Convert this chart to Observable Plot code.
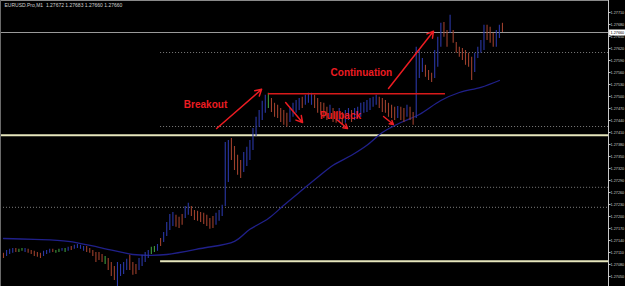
<!DOCTYPE html>
<html><head><meta charset="utf-8">
<script src="https://cdn.jsdelivr.net/npm/d3@7"></script>
<script src="https://cdn.jsdelivr.net/npm/@observablehq/plot@0.6"></script>
<style>
html,body{margin:0;padding:0;background:#000;}
#chart{position:relative;width:625px;height:286px;overflow:hidden;background:#000;}
#chart svg{display:block;}
</style></head><body><div id="chart"></div>
<script>
// ---- DATA ----
const symbolTitle = "EURUSD.Pro,M1  1.27672 1.27683 1.27660 1.27660";
const bidPrice = 1.27660;

const highs = [
 1.27108,1.27115,1.27118,1.27120,1.27120,1.27118,1.27120,1.27120,1.27118,1.27115,
 1.27113,1.27110,1.27108,1.27113,1.27115,1.27118,1.27118,1.27115,1.27118,1.27120,
 1.27120,1.27123,1.27125,1.27128,1.27130,1.27128,1.27125,1.27125,1.27120,1.27115,1.27110,
 1.27110,1.27105,1.27100,1.27095,1.27085,1.27075,1.27085,1.27080,1.27085,1.27093,
 1.27103,1.27085,1.27080,1.27095,1.27103,1.27110,1.27115,1.27123,1.27125,1.27130,
 1.27145,1.27160,1.27185,1.27205,1.27210,1.27203,1.27198,1.27205,1.27225,1.27233,
 1.27225,1.27215,1.27213,1.27210,1.27208,1.27203,1.27195,1.27200,1.27208,1.27215,1.27228,1.27385,
 1.27390,1.27395,1.27375,1.27353,1.27340,1.27360,1.27373,1.27390,1.27420,1.27448,1.27465,1.27488,1.27503,1.27508,
 1.27495,1.27483,1.27478,1.27470,1.27465,1.27458,1.27470,1.27483,1.27490,1.27495,
 1.27498,1.27503,1.27508,1.27508,1.27503,1.27495,1.27485,1.27483,1.27473,1.27478,
 1.27470,1.27460,1.27470,1.27460,1.27465,1.27470,1.27465,1.27470,1.27473,1.27483,
 1.27485,1.27490,1.27495,1.27498,1.27503,1.27498,1.27495,1.27490,1.27483,1.27478,
 1.27473,1.27475,1.27473,1.27470,1.27478,1.27473,1.27460,
 1.27623,1.27615,1.27595,1.27578,1.27565,1.27558,1.27615,1.27648,1.27683,1.27685,
 1.27665,1.27703,1.27665,1.27635,1.27623,1.27620,1.27615,1.27608,1.27598,1.27608,
 1.27623,1.27640,1.27678,1.27678,1.27673,1.27658,1.27665,1.27678,1.27683
];
const lows = [
 1.27095,1.27100,1.27105,1.27108,1.27110,1.27110,1.27113,1.27110,1.27108,1.27105,
 1.27100,1.27098,1.27095,1.27100,1.27105,1.27108,1.27110,1.27108,1.27110,1.27113,
 1.27110,1.27113,1.27115,1.27118,1.27120,1.27118,1.27113,1.27110,1.27108,1.27100,1.27085,
 1.27090,1.27085,1.27080,1.27065,1.27050,1.27040,1.27025,1.27050,1.27055,1.27065,
 1.27065,1.27053,1.27055,1.27065,1.27075,1.27085,1.27095,1.27105,1.27110,1.27113,
 1.27125,1.27135,1.27150,1.27165,1.27175,1.27173,1.27170,1.27178,1.27195,1.27203,
 1.27200,1.27190,1.27188,1.27185,1.27180,1.27175,1.27168,1.27170,1.27178,1.27188,1.27200,1.27225,
 1.27285,1.27340,1.27315,1.27303,1.27295,1.27310,1.27325,1.27340,1.27365,1.27400,1.27423,1.27440,1.27458,1.27470,
 1.27460,1.27448,1.27445,1.27435,1.27428,1.27423,1.27435,1.27448,1.27458,1.27465,
 1.27470,1.27478,1.27483,1.27478,1.27470,1.27458,1.27453,1.27445,1.27440,1.27445,
 1.27435,1.27433,1.27435,1.27428,1.27433,1.27440,1.27435,1.27440,1.27445,1.27448,
 1.27458,1.27460,1.27465,1.27473,1.27478,1.27470,1.27460,1.27458,1.27448,1.27445,
 1.27440,1.27445,1.27440,1.27435,1.27448,1.27440,1.27428,
 1.27445,1.27545,1.27560,1.27548,1.27540,1.27535,1.27545,1.27573,1.27623,1.27648,
 1.27623,1.27658,1.27633,1.27608,1.27598,1.27590,1.27578,1.27573,1.27540,1.27560,
 1.27595,1.27608,1.27615,1.27640,1.27633,1.27623,1.27623,1.27645,1.27660
];
// b = up bar, r = down bar, g = doji
const dirs = ("rbbbrggbrrrrrbbbrggbgbrbbbbrrrr" +
  "rrgrrrbbbbrrrbbbbggb" +
  "rbbbbrrrbbrrrrrrrrbbbb" +
  "brrrrbbbbbbbbg" +
  "rrrrrrbbbbrbbbrrrrrbrrbrbbrbbbbbbbbrrrrrrbrrbrr" +
  "bbbrrrbbbrrbrrrrrrrbbbbrrrbbr").split("");

// moving average (read at a few bar positions)
const maIdx = [0,10,21,31,42,48,53,64,75,80,86,91,96,102,107,113,118,123,129,135,142,148,155,161];
const maVal = [1.27145,1.27143,1.27138,1.27123,1.27105,1.27103,1.27105,1.27120,1.27138,1.27168,1.27195,1.27228,1.27260,1.27298,1.27328,1.27353,1.27378,1.27410,1.27435,1.27455,1.27490,1.27510,1.27523,1.27540];

const tickPrices = [1.27710,1.27680,1.27650,1.27620,1.27590,1.27560,1.27530,1.27500,1.27470,1.27440,1.27410,1.27380,1.27350,1.27320,1.27290,1.27260,1.27230,1.27200,1.27170,1.27140,1.27110,1.27080,1.27050];

// horizontal levels
const fullLevelPrices = [1.27660, 1.27403, 1.27223];
const fullLevelKinds = ["bid", "cream", "dot"];
const partLevelPrices = [1.27610, 1.27425, 1.27273, 1.27088];
const partLevelKinds = ["dot", "dot", "dot", "cream"];
const partLevelStart = 51;
const resistancePrice = 1.27507, resistanceFrom = 86, resistanceTo = 143.5;

// annotations
const labelTexts = ["Breakout", "Pullback", "Continuation"];
const labelIdx = [65.6, 109.4, 116.2];
const labelPrice = [1.27480, 1.27453, 1.27560];
const arrowI1 = [69.2, 91.6, 108.1, 123.4, 125.0];
const arrowP1 = [1.27420, 1.27485, 1.27443, 1.27450, 1.27520];
const arrowI2 = [83.8, 97.1, 111.7, 126.6, 139.6];
const arrowP2 = [1.27518, 1.27435, 1.27420, 1.27430, 1.27663];

// ---- BUILD ----
const bars = highs.map((h, i) => ({i, high: h, low: lows[i], dir: dirs[i]}));
const ma = maIdx.map((i, k) => ({i, v: maVal[k]}));
const xMin = -0.974, xMax = 196.43, yMin = 1.27025, yMax = 1.27740;
const barColor = {b: "#2a37a6", r: "#9c3f2c", g: "#3d9a3d"};
const levelStyle = {
  bid: {stroke: "#9a9a9a", w: 1, dash: null},
  cream: {stroke: "#e6e6bc", w: 2, dash: null},
  dot: {stroke: "#7c7c7c", w: 1, dash: "1,2"}
};
const levels = [
  ...fullLevelPrices.map((p, k) => ({p, kind: fullLevelKinds[k], a: xMin, b: xMax})),
  ...partLevelPrices.map((p, k) => ({p, kind: partLevelKinds[k], a: partLevelStart, b: xMax}))
];
const labels = labelTexts.map((t, k) => ({t, i: labelIdx[k], p: labelPrice[k]}));
const arrows = arrowI1.map((a, k) => ({i1: a, p1: arrowP1[k], i2: arrowI2[k], p2: arrowP2[k]}));
const red = "#ec1c22";
const axisFont = "Liberation Sans, Arial, sans-serif";

const marks = [];
for (const kind of ["dot", "bid", "cream"]) {
  const st = levelStyle[kind];
  marks.push(Plot.ruleY(levels.filter(d => d.kind === kind), {
    y: "p", x1: "a", x2: "b", stroke: st.stroke, strokeWidth: st.w,
    strokeDasharray: st.dash
  }));
}
marks.push(
  Plot.ruleY([yMax], {stroke: "#8a8a8a", strokeWidth: 1}),
  Plot.ruleX([xMin], {stroke: "#6a6a6a", strokeWidth: 1}),
  Plot.line(ma, {x: "i", y: "v", stroke: "#20208a", strokeWidth: 1.3, curve: "catmull-rom"}),
  Plot.ruleX(bars, {x: "i", y1: "low", y2: "high", stroke: d => barColor[d.dir], strokeWidth: 1.1}),
  Plot.ruleY([resistancePrice], {x1: resistanceFrom, x2: resistanceTo, stroke: "#d81a1a", strokeWidth: 1.5}),
  Plot.arrow(arrows, {x1: "i1", y1: "p1", x2: "i2", y2: "p2", stroke: red, strokeWidth: 1.5, headLength: 7, bend: 0}),
  Plot.text(labels, {x: "i", y: "p", text: "t", fill: red, fontSize: 10, fontWeight: "bold",
    fontFamily: "Liberation Sans, Arial, sans-serif"}),
  Plot.ruleX([xMax], {stroke: "#c8c8c8", strokeWidth: 1}),
  Plot.axisY(tickPrices, {anchor: "right", tickFormat: d => d.toFixed(5), tickSize: 1.5, tickPadding: 0.5,
    fontSize: 3.8, stroke: "#c8c8c8", fill: "#c8c8c8", fontFamily: axisFont}),
  Plot.ruleY([bidPrice], {x1: xMax + 0.35, x2: 203, stroke: "#ffffff", strokeWidth: 6}),
  Plot.text([bidPrice], {x: xMax, y: d => d, text: d => d.toFixed(5), dx: 2, textAnchor: "start",
    fill: "#000", fontSize: 3.8, fontFamily: axisFont}),
  Plot.text([symbolTitle], {frameAnchor: "top-left", text: d => d, dx: 4, dy: 3, fontSize: 5,
    fill: "#d0d0d0", fontFamily: axisFont})
);

const chart = Plot.plot({
  width: 625, height: 286,
  marginTop: 0, marginBottom: 0, marginLeft: 0, marginRight: 17,
  style: {background: "#000", color: "#c8c8c8", overflow: "hidden"},
  x: {domain: [xMin, xMax], axis: null},
  y: {domain: [yMin, yMax], axis: null},
  marks
});
document.getElementById("chart").appendChild(chart);
</script>
</body></html>
